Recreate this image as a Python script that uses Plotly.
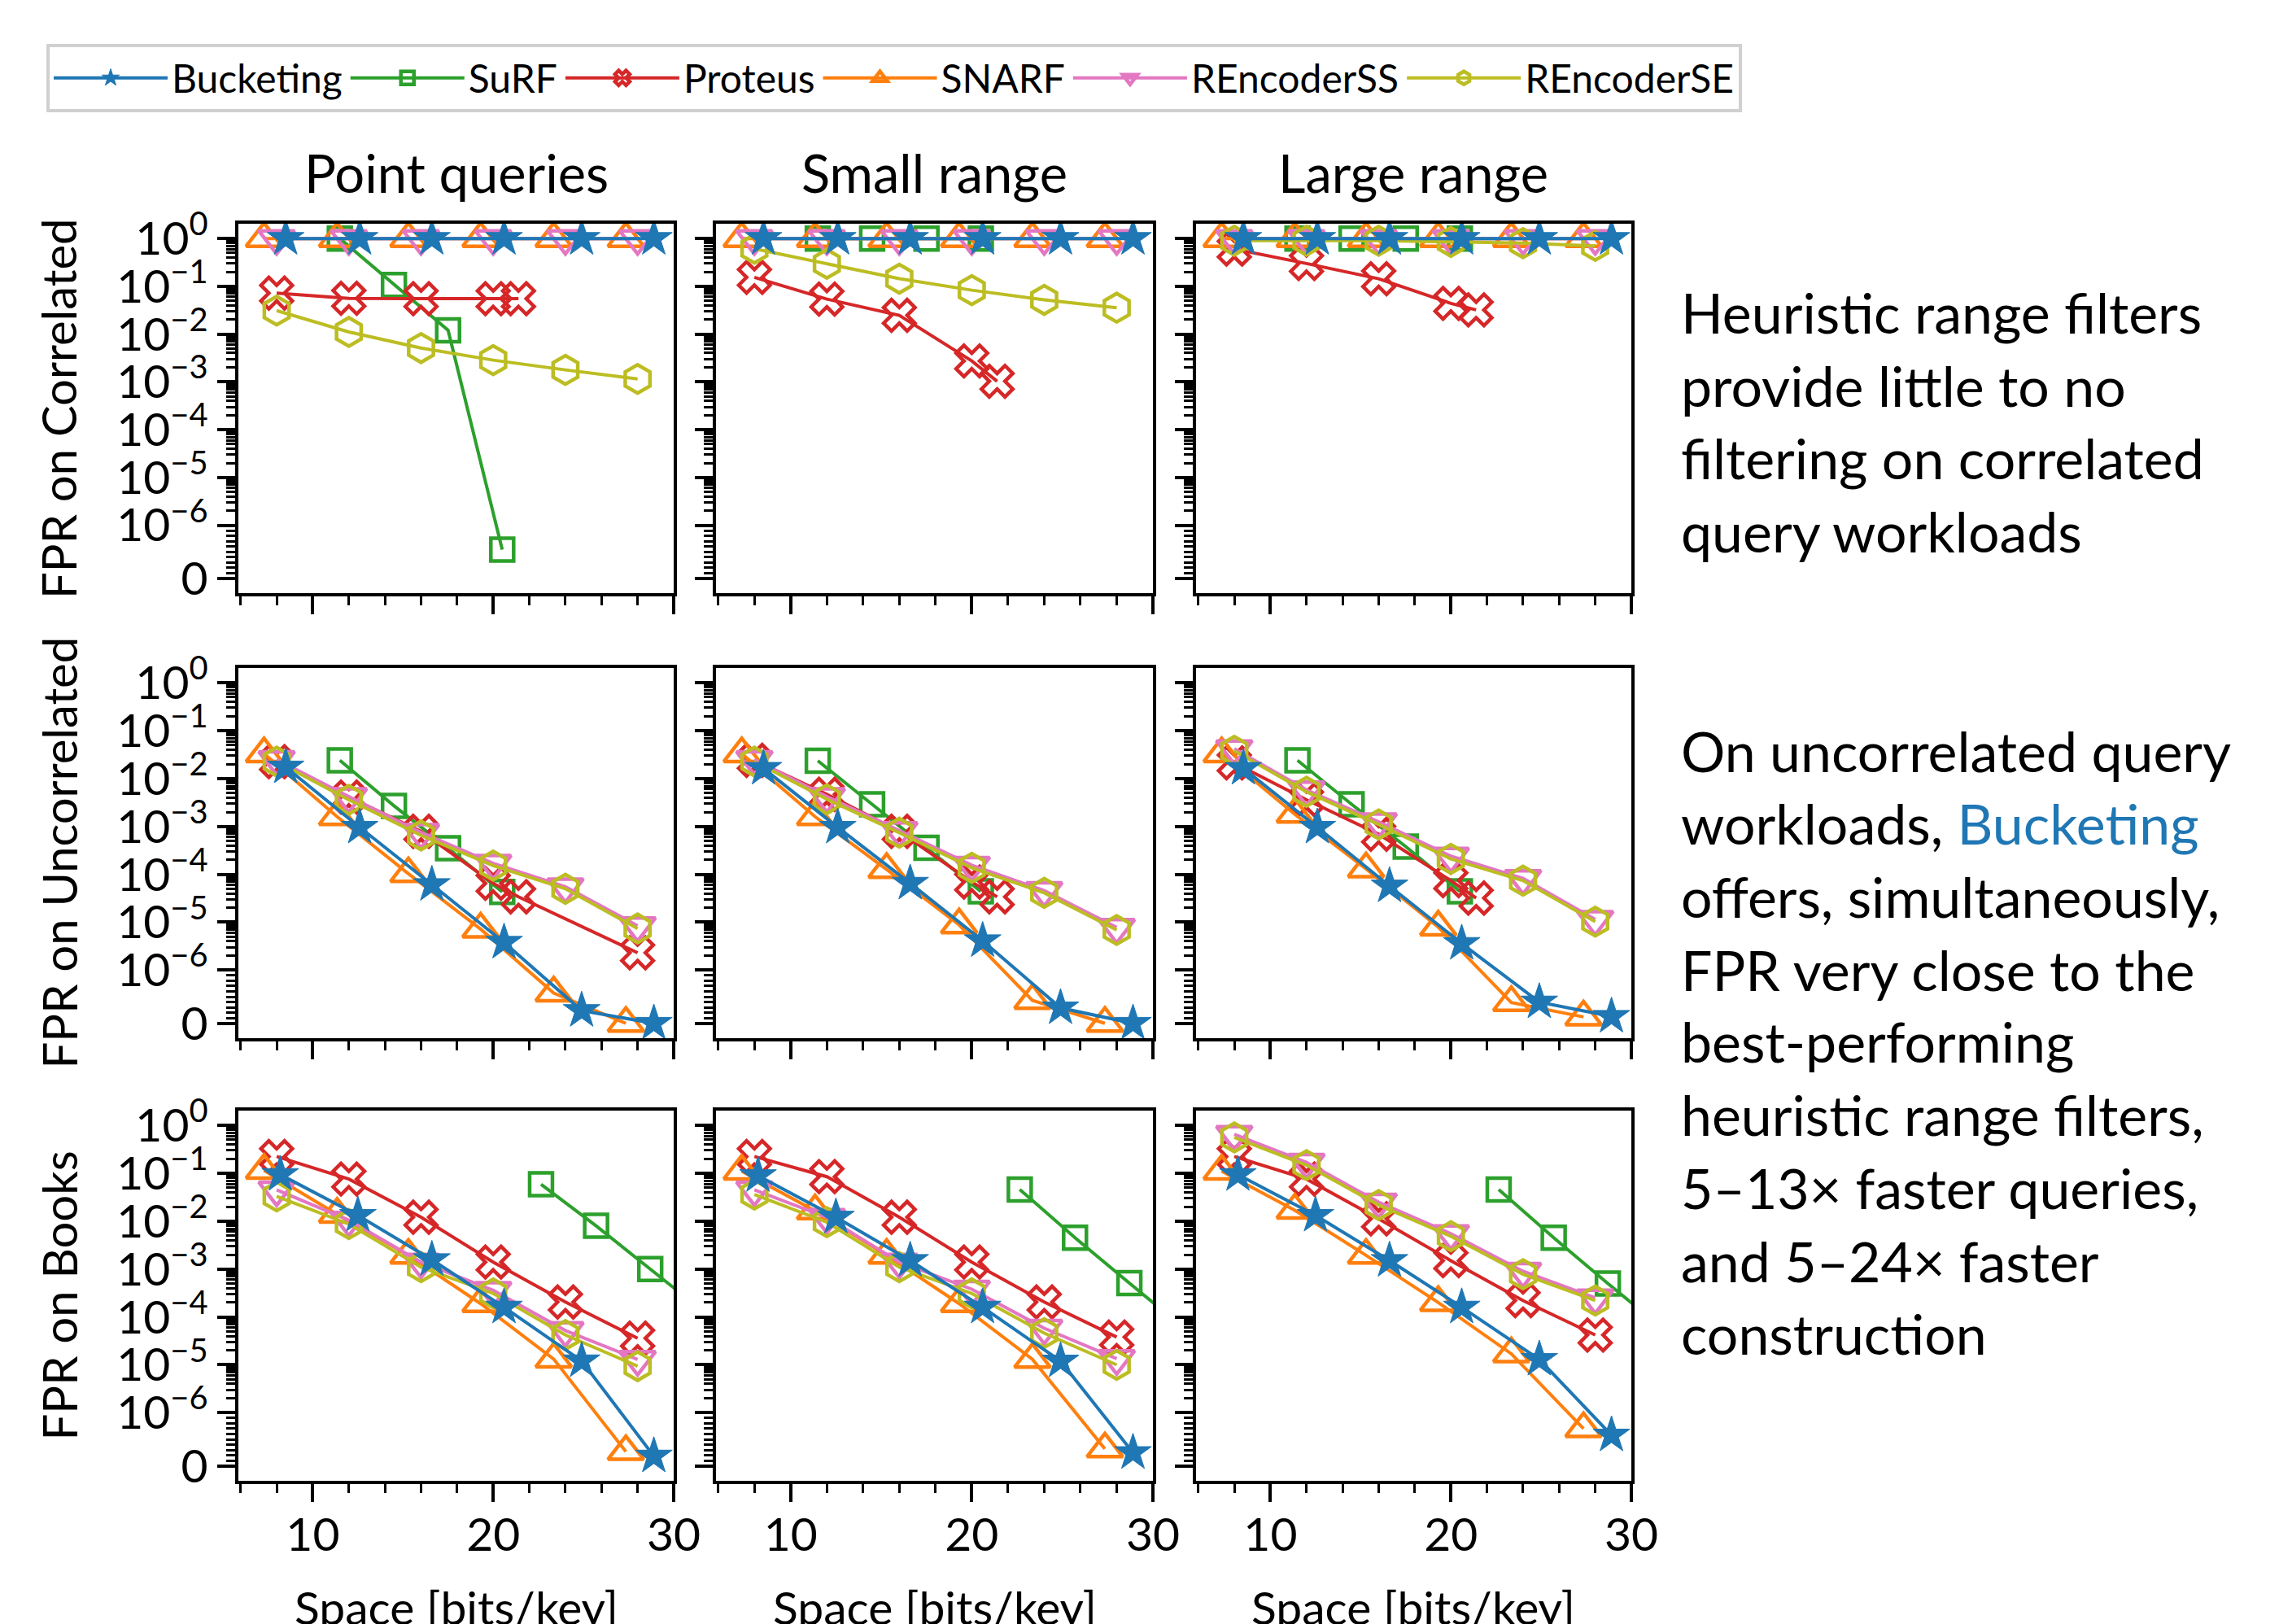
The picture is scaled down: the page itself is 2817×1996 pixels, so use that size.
import math
import plotly.graph_objects as go

# ---------------- data ----------------
COLUMNS = ["Point queries", "Small range", "Large range"]
ROWS = ["FPR on Correlated", "FPR on Uncorrelated", "FPR on Books"]

# x positions (bits/key)
BUCKETING_X = [8.5, 12.6, 16.6, 20.6, 24.9, 28.9]
BUCKETING_X_BOOKS = [8.2, 12.5, 16.6, 20.6, 24.9, 28.9]
SURF_X = [11.5, 14.5, 17.5, 20.5]
SURF_X_BOOKS = [22.65, 25.7, 28.7, 31.7]
PROTEUS_X = [8, 12, 16, 20, 21.4, 28]
PROTEUS_X_BOOKS = [8, 12, 16, 20, 24, 28]
SNARF_X = [7.3, 11.35, 15.3, 19.3, 23.35, 27.35]
RENC_X = [8, 12, 16, 20, 24, 28]

# FPR values, one list per column (Point queries, Small range, Large range)
BUCKETING_CORR = [[1.0, 1.0, 1.0, 1.0, 1.0, 1.0],
                  [1.0, 1.0, 1.0, 1.0, 1.0, 1.0],
                  [1.0, 1.0, 1.0, 1.0, 1.0, 1.0]]
SURF_CORR = [[1.0, 0.107, 0.012, 5.4e-7],
             [1.0, 1.0, 1.0, 1.0],
             [1.0, 1.0, 1.0, 1.0]]
PROTEUS_CORR = [[0.072, 0.056, 0.055, 0.055, 0.055, None],
                [0.154, 0.054, 0.0247, 0.00274, 0.00103, None],
                [0.6, 0.30, 0.144, 0.044, 0.032, None]]
SNARF_CORR = [[1.0, 1.0, 1.0, 1.0, 1.0, 1.0],
              [1.0, 1.0, 1.0, 1.0, 1.0, 1.0],
              [1.0, 1.0, 1.0, 1.0, 1.0, 1.0]]
RENCSS_CORR = [[1.0, 1.0, 1.0, 1.0, 1.0, 1.0],
               [1.0, 1.0, 1.0, 1.0, 1.0, 1.0],
               [1.0, 1.0, 1.0, 1.0, 1.0, 1.0]]
RENCSE_CORR = [[0.031, 0.0111, 0.0051, 0.00285, 0.00178, 0.00115],
               [0.61, 0.296, 0.144, 0.083, 0.052, 0.0356],
               [0.9, 0.9, 0.9, 0.85, 0.8, 0.7]]

BUCKETING_UNC = [[0.0174, 9.6e-4, 6.1e-5, 3.8e-6, 2.4e-7, 0.0],
                 [0.0163, 9.6e-4, 6.5e-5, 4.1e-6, 2.9e-7, 0.0],
                 [0.0163, 9.6e-4, 5.7e-5, 3.6e-6, 4.0e-7, 1.3e-7]]
SURF_UNC = [[0.024, 0.0027, 3.5e-4, 4.3e-5],
            [0.0235, 0.0029, 3.6e-4, 4.4e-5],
            [0.024, 0.0029, 3.8e-4, 4.4e-5]]
PROTEUS_UNC = [[0.0226, 0.0041, 7.9e-4, 6.5e-5, 3.4e-5, 2.3e-6],
               [0.024, 0.0047, 7.9e-4, 6.9e-5, 3.4e-5, None],
               [0.0212, 0.0036, 6.9e-4, 7.4e-5, 3.2e-5, None]]
SNARF_UNC = [[0.033, 0.0016, 1.03e-4, 7.2e-6, 5.7e-7, 0.0],
             [0.033, 0.0016, 1.26e-4, 8.8e-6, 4.3e-7, 0.0],
             [0.033, 0.0018, 1.3e-4, 7.9e-6, 3.9e-7, 1.2e-7]]
RENCSS_UNC = [[0.025, 0.0042, 7.5e-4, 1.7e-4, 5.5e-5, 8.5e-6],
              [0.025, 0.0042, 8.2e-4, 1.55e-4, 4.6e-5, 7.8e-6],
              [0.042, 0.0058, 0.00125, 2.4e-4, 8.2e-5, 1.15e-5]]
RENCSE_UNC = [[0.0226, 0.0036, 6.5e-4, 1.52e-4, 5.0e-5, 7.4e-6],
              [0.0226, 0.0037, 7.4e-4, 1.37e-4, 4.1e-5, 6.9e-6],
              [0.038, 0.0053, 0.0011, 2.1e-4, 7.4e-5, 1.03e-5]]

BUCKETING_BOOKS = [[0.094, 0.0132, 0.00157, 1.6e-4, 1.21e-5, 1.85e-7],
                   [0.089, 0.0121, 0.00151, 1.6e-4, 1.2e-5, 2.5e-7],
                   [0.094, 0.0132, 0.00151, 1.6e-4, 1.3e-5, 5.8e-7]]
SURF_BOOKS = [[0.059, 0.0080, 0.0010, 1.25e-4],
              [0.046, 0.0045, 5.1e-4, 5.9e-5],
              [0.046, 0.0045, 5.0e-4, 5.9e-5]]
PROTEUS_BOOKS = [[0.224, 0.0758, 0.0121, 0.0014, 2.05e-4, 3.6e-5],
                 [0.224, 0.085, 0.0121, 0.0014, 2.05e-4, 3.8e-5],
                 [0.224, 0.0758, 0.0112, 0.0015, 2.2e-4, 4.2e-5]]
SNARF_BOOKS = [[0.115, 0.0139, 0.00194, 1.9e-4, 1.32e-5, 2.7e-7],
               [0.111, 0.0164, 0.00194, 1.9e-4, 1.3e-5, 3.2e-7],
               [0.111, 0.0169, 0.00194, 2.0e-4, 1.7e-5, 7.0e-7]]
RENCSS_BOOKS = [[0.045, 0.0105, 0.0014, 3.6e-4, 5.2e-5, 1.3e-5],
                [0.045, 0.012, 0.0014, 3.8e-4, 5.8e-5, 1.35e-5],
                [0.65, 0.17, 0.025, 0.0055, 9.0e-4, 2.5e-4]]
RENCSE_BOOKS = [[0.033, 0.0087, 0.0011, 3.1e-4, 4.2e-5, 9.4e-6],
                [0.036, 0.0095, 0.0011, 3.1e-4, 4.6e-5, 1.0e-5],
                [0.56, 0.148, 0.0217, 0.00485, 7.8e-4, 2.2e-4]]

Y_TICK_LABELS = ["0", "10<sup>\u22126</sup>", "10<sup>\u22125</sup>", "10<sup>\u22124</sup>",
                 "10<sup>\u22123</sup>", "10<sup>\u22122</sup>", "10<sup>\u22121</sup>", "10<sup>0</sup>"]
X_TICKS = [10, 20, 30]

NOTE_1 = ["Heuristic range filters", "provide little to no",
          "filtering on correlated", "query workloads"]
NOTE_2 = ["On uncorrelated query",
          "workloads, <span style='color:#1f77b4'>Bucketing</span>",
          "offers, simultaneously,", "FPR very close to the",
          "best-performing", "heuristic range filters,",
          "5\u201313\u00d7 faster queries,", "and 5\u201324\u00d7 faster",
          "construction"]

# ---------------- symlog scale (matplotlib style, linthresh=1e-6, linscale=1) ----------------
LINTHRESH = 1e-6
LINSCALE_ADJ = 1.0 / (1.0 - 1.0 / 10.0)


def symlog(v):
    if v is None:
        return None
    if v <= LINTHRESH:
        return v / LINTHRESH * LINSCALE_ADJ
    return LINSCALE_ADJ + math.log10(v / LINTHRESH)


Y_MAJOR = [0.0] + [10.0 ** e for e in range(-6, 1)]
Y_MINOR = [k * 1e-7 for k in range(1, 10)] + [k * 10.0 ** e for e in range(-6, 0) for k in range(2, 10)]

# ---------------- series styling ----------------
SERIES = [
    # name, color, symbol, marker size, rank, x_cu, x_books, corr, unc, books
    ("SuRF", "#2ca02c", "square-open", 28, 2, SURF_X, SURF_X_BOOKS, SURF_CORR, SURF_UNC, SURF_BOOKS),
    ("Proteus", "#d62728", "x-open", 34, 3, PROTEUS_X, PROTEUS_X_BOOKS, PROTEUS_CORR, PROTEUS_UNC, PROTEUS_BOOKS),
    ("SNARF", "#ff7f0e", "triangle-up-open", 38, 4, SNARF_X, SNARF_X, SNARF_CORR, SNARF_UNC, SNARF_BOOKS),
    ("REncoderSS", "#e377c2", "triangle-down-open", 38, 5, RENC_X, RENC_X, RENCSS_CORR, RENCSS_UNC, RENCSS_BOOKS),
    ("REncoderSE", "#bcbd22", "hexagon-open", 35, 6, RENC_X, RENC_X, RENCSE_CORR, RENCSE_UNC, RENCSE_BOOKS),
    ("Bucketing", "#1f77b4", "star", 34, 1, BUCKETING_X, BUCKETING_X_BOOKS, BUCKETING_CORR, BUCKETING_UNC, BUCKETING_BOOKS),
]

W, H = 2817, 1996
COL_PX = [(293, 828), (880, 1417), (1470, 2005)]
ROW_PX = [(275, 729), (821, 1276), (1365, 1820)]
FONT = "Lato"

fig = go.Figure()

for r in range(3):
    for c in range(3):
        n = r * 3 + c + 1
        for name, color, symbol, msize, rank, x_cu, x_books, corr, unc, books in SERIES:
            xs = x_books if r == 2 else x_cu
            vals = [corr, unc, books][r][c]
            xx, yy = [], []
            for xv, yv in zip(xs, vals):
                if yv is None:
                    continue
                xx.append(xv)
                yy.append(symlog(yv))
            fig.add_trace(go.Scatter(
                x=xx, y=yy, name=name, mode="lines+markers",
                xaxis="x" if n == 1 else f"x{n}", yaxis="y" if n == 1 else f"y{n}",
                line=dict(color=color, width=4),
                marker=dict(symbol=symbol, size=msize, color=color,
                            line=dict(color=color, width=4.5 if symbol != "star" else 1)),
                legendgroup=name, showlegend=(n == 1), legendrank=rank,
                customdata=[v for v in vals if v is not None],
                hovertemplate=name + ": %{customdata:.3g}<extra></extra>",
            ))

layout = dict(
    width=W, height=H, autosize=False,
    margin=dict(l=0, r=0, t=0, b=0, autoexpand=False),
    paper_bgcolor="white", plot_bgcolor="white",
    font=dict(family=FONT, color="black", size=48),
    showlegend=True,
    legend=dict(orientation="h", x=57 / W, y=1 - 96 / H, xanchor="left", yanchor="middle",
                bordercolor="#d0d0d0", borderwidth=4, bgcolor="white",
                font=dict(family=FONT, size=48), itemwidth=140, traceorder="normal"),
)

for r in range(3):
    for c in range(3):
        n = r * 3 + c + 1
        x0, x1 = COL_PX[c]
        y0, y1 = ROW_PX[r]
        common = dict(showline=True, mirror=True, linewidth=4, linecolor="black",
                      showgrid=False, zeroline=False, ticks="outside", ticklen=22,
                      tickwidth=4, tickcolor="black",
                      tickfont=dict(family=FONT, size=57, color="black"))
        layout["xaxis" if n == 1 else f"xaxis{n}"] = dict(
            domain=[x0 / W, x1 / W], range=[5.88, 30], anchor="y" if n == 1 else f"y{n}",
            tickmode="array", tickvals=X_TICKS, ticktext=[str(v) for v in X_TICKS],
            showticklabels=(r == 2), ticklabelstandoff=-8,
            minor=dict(tickmode="array", tickvals=[6, 8, 12, 14, 16, 18, 22, 24, 26, 28],
                       ticklen=11, tickwidth=2.5, tickcolor="black", ticks="outside"),
            **common)
        layout["yaxis" if n == 1 else f"yaxis{n}"] = dict(
            domain=[1 - y1 / H, 1 - y0 / H], range=[-0.31, 7.42], anchor="x" if n == 1 else f"x{n}",
            tickmode="array", tickvals=[symlog(v) for v in Y_MAJOR], ticktext=Y_TICK_LABELS,
            showticklabels=(c == 0),
            minor=dict(tickmode="array", tickvals=[symlog(v) for v in Y_MINOR],
                       ticklen=11, tickwidth=2.5, tickcolor="black", ticks="outside"),
            **common)

fig.update_layout(**layout)

ann = []
for c, title in enumerate(COLUMNS):
    cx = (COL_PX[c][0] + COL_PX[c][1]) / 2 / W
    ann.append(dict(text=title, x=cx, y=1 - 212 / H, xref="paper", yref="paper",
                    showarrow=False, xanchor="center", yanchor="middle",
                    font=dict(family=FONT, size=65)))
    ann.append(dict(text="Space [bits/key]", x=cx, y=1 - 1975 / H, xref="paper", yref="paper",
                    showarrow=False, xanchor="center", yanchor="middle",
                    font=dict(family=FONT, size=57)))
for r, label in enumerate(ROWS):
    cy = 1 - (ROW_PX[r][0] + ROW_PX[r][1]) / 2 / H
    ann.append(dict(text=label, x=72 / W, y=cy, xref="paper", yref="paper", textangle=-90,
                    showarrow=False, xanchor="center", yanchor="middle",
                    font=dict(family=FONT, size=58)))
NOTE_1_Y = [383, 474, 562, 652]
NOTE_2_Y = [922, 1011, 1101, 1191, 1279, 1369, 1459, 1549, 1638]
for txt, yy in list(zip(NOTE_1, NOTE_1_Y)) + list(zip(NOTE_2, NOTE_2_Y)):
    ann.append(dict(text=txt, x=2064 / W, y=1 - yy / H, xref="paper", yref="paper",
                    showarrow=False, xanchor="left", yanchor="middle",
                    font=dict(family=FONT, size=68)))
fig.update_layout(annotations=ann)

fig.write_html("out.html", config={"displayModeBar": False},
               post_script="document.body.style.margin = '0px';")
